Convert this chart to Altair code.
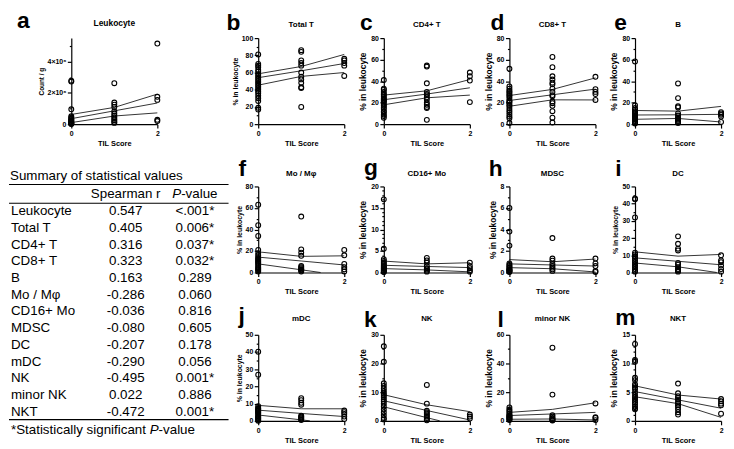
import altair as alt
import pandas as pd

FONT = "Liberation Sans"

# ---------------- summary table ----------------
CELLS = ["Leukocyte", "Total T", "CD4+ T", "CD8+ T", "B", "Mo / Mφ", "CD16+ Mo",
         "MDSC", "DC", "mDC", "NK", "minor NK", "NKT"]
SPEARMAN_R = ["0.547", "0.405", "0.316", "0.323", "0.163", "-0.286", "-0.036",
              "-0.080", "-0.207", "-0.290", "-0.495", "0.022", "-0.472"]
P_VALUES = ["<.001*", "0.006*", "0.037*", "0.032*", "0.289", "0.060", "0.816",
            "0.605", "0.178", "0.056", "0.001*", "0.886", "0.001*"]

# ---------------- panel data (values at TIL score 0 / 1 / 2) ----------------
LEUK_0 = [2.78e6, 2.72e6, 0.95e6, 0.5e6, 0.42e6, 0.35e6, 0.3e6, 0.25e6, 0.2e6, 0.16e6,
          0.12e6, 0.08e6, 0.05e6, 0.03e6, 0.01e6]
LEUK_1 = [2.62e6, 1.38e6, 1.25e6, 1.1e6, 0.82e6, 0.68e6, 0.55e6, 0.45e6, 0.35e6, 0.25e6,
          0.15e6, 0.08e6]
LEUK_2 = [5.15e6, 1.75e6, 1.55e6, 0.28e6, 0.2e6]
LEUK_FIT = {"upper": [(0, 0.62e6), (1, 1.07e6), (2, 1.92e6)],
            "mid": [(0, 0.35e6), (2, 1.35e6)],
            "lower": [(0, 0.1e6), (1, 0.52e6), (2, 0.72e6)]}

TOTALT_0 = [81, 70, 68, 66, 63, 61, 58, 56, 54, 52, 50, 48, 46, 44, 42, 40, 38, 36, 33, 30, 27, 19, 17]
TOTALT_1 = [86, 84, 74, 71, 68, 60, 55, 52, 48, 43, 42, 20]
TOTALT_2 = [76, 74, 71, 68, 56]
TOTALT_FIT = {"upper": [(0, 58.5), (1, 67), (2, 81)],
              "mid": [(0, 54), (1, 62), (2, 70.5)],
              "lower": [(0, 45.3), (1, 55.5), (2, 60)]}

CD4_0 = [41, 33, 32, 30, 28, 27, 25.5, 24, 23, 22, 21, 20, 18, 17, 15.5, 14, 12, 11, 9, 7.5, 6]
CD4_1 = [54.5, 53.5, 38, 30, 28, 27, 25, 23, 20, 18, 16, 15, 4]
CD4_2 = [48, 44.5, 40.5, 20.5]
CD4_FIT = {"upper": [(0, 27), (1, 31), (2, 41.5)],
           "mid": [(0, 22.7), (1, 28), (2, 33.8)],
           "lower": [(0, 18), (1, 24.5), (2, 27)]}

CD8_0 = [51.5, 35, 33, 31, 30, 28.5, 27, 26, 24, 22, 21, 20, 18, 17, 15, 13, 11, 9, 7, 5.5, 1]
CD8_1 = [62.5, 53, 44.5, 41.5, 38.5, 37, 33, 30, 27, 26, 21, 19.5, 17, 12, 6, 1.5]
CD8_2 = [44, 32.5, 30, 28, 22.5]
CD8_FIT = {"upper": [(0, 26.6), (1, 32.3), (2, 43)],
           "mid": [(0, 22), (1, 27.3), (2, 32.6)],
           "lower": [(0, 16.6), (1, 22.6), (2, 22.5)]}

B_0 = [58.3, 17.5, 15, 13.5, 12, 11, 10, 9, 8, 7, 6, 5, 4, 3, 2, 1, 0.5]
B_1 = [37.8, 24.2, 16.6, 15.5, 10, 8, 6, 5, 4, 3, 2, 1]
B_2 = [11.2, 10, 8.8, 7, 2]
B_FIT = {"upper": [(0, 12.7), (1, 12.1), (2, 16.5)],
         "mid": [(0, 8.5), (1, 8.7), (2, 9.1)],
         "lower": [(0, 4.5), (1, 5.3), (2, 2)]}

MO_0 = [63, 44, 34, 21, 18, 16, 14.5, 13, 12, 11, 10, 9, 8, 6.5, 5, 4, 3, 2, 1]
MO_1 = [52, 21.5, 18.5, 15.5, 6, 5, 4, 3, 2.5, 2, 1]
MO_2 = [21, 16, 8, 5, 3, 1]
MO_FIT = {"upper": [(0, 19.2), (1, 15), (2, 15.5)],
          "mid": [(0, 14.3), (1, 10.7), (2, 7)],
          "lower": [(0, 8), (1, 2.5), (1.45, 0)]}

CD16_0 = [17, 5.5, 3.1, 2.7, 2.3, 2.0, 1.7, 1.4, 1.2, 1.0, 0.8, 0.6, 0.4, 0.2, 0.1]
CD16_1 = [3.4, 2.8, 2.3, 1.5, 1.0, 0.7, 0.4, 0.2]
CD16_2 = [2.3, 1.5, 1.0, 0.5, 0.2]
CD16_FIT = {"upper": [(0, 2.65), (1, 2.0), (2, 2.27)],
            "mid": [(0, 1.67), (1, 1.4), (2, 1.14)],
            "lower": [(0, 0.9), (1, 0.6), (2, 0.15)]}

MDSC_0 = [6.0, 3.8, 2.5, 0.85, 0.7, 0.6, 0.5, 0.4, 0.3, 0.25, 0.2, 0.15, 0.1, 0.05]
MDSC_1 = [3.2, 1.3, 1.1, 0.8, 0.6, 0.45, 0.3, 0.15]
MDSC_2 = [1.3, 0.85, 0.6, 0.15, 0.05]
MDSC_FIT = {"upper": [(0, 1.2), (1, 1.0), (2, 1.25)],
            "mid": [(0, 0.8), (1, 0.7), (2, 0.6)],
            "lower": [(0, 0.45), (1, 0.35), (2, 0.05)]}

DC_0 = [43, 42.5, 32, 11.5, 10.5, 9.5, 9, 8, 7, 6, 5, 4, 3, 2, 1, 0.5]
DC_1 = [21, 16.7, 13.8, 12.8, 5.6, 4.5, 3, 2, 1.5, 1, 0.5]
DC_2 = [10, 7, 6, 4, 2, 0.5]
DC_FIT = {"upper": [(0, 12), (1, 9.5), (2, 10.5)],
          "mid": [(0, 8.5), (1, 6.5), (2, 4.5)],
          "lower": [(0, 5.5), (1, 3.3), (1.9, 0)]}

MDC_0 = [40.2, 26.8, 8.5, 7.5, 7, 6.5, 6, 5.5, 5, 4.5, 4, 3, 2.5, 2, 1.5, 1, 0.5, 0]
MDC_1 = [13.2, 12, 10.5, 9.4, 3, 2.5, 2, 1.5, 1, 0.5]
MDC_2 = [6, 5, 4, 2.5, 1]
MDC_FIT = {"upper": [(0, 9), (1, 7), (2, 7)],
           "mid": [(0, 6.2), (1, 4.3), (2, 2.5)],
           "lower": [(0, 3.4), (1.2, 0)]}

NK_0 = [26, 20.6, 13.1, 12.2, 11.3, 10.4, 9.6, 9, 8.3, 7.5, 6.8, 6, 5, 4, 3, 2, 1, 0.5]
NK_1 = [12.5, 6, 3.5, 3, 2.5, 2, 1.5, 1, 0.5, 0.2]
NK_2 = [2.2, 1.5, 0.8]
NK_FIT = {"upper": [(0, 9.1), (1, 5.6), (2, 3.2)],
          "mid": [(0, 7), (1, 3.6), (2, 0.3)],
          "lower": [(0, 4.9), (1, 1.1), (1.3, 0)]}

MINORNK_0 = [9.4, 8, 7, 6, 5, 4, 3.5, 3, 2.5, 2, 1.5, 1, 0.5]
MINORNK_1 = [51, 18.3, 4, 3, 2, 1.5, 1, 0.5, 0.3]
MINORNK_2 = [12.1, 2.5, 2, 0.5]
MINORNK_FIT = {"upper": [(0, 5.9), (1, 8), (2, 12.6)],
               "mid": [(0, 3.7), (1, 4.8), (2, 5.9)],
               "lower": [(0, 1.1), (1, 1.3), (2, 0.6)]}

NKT_0 = [13.4, 10.6, 10.3, 7.5, 7.1, 6.4, 6.1, 5.8, 5.5, 5.0, 4.5, 4.1, 3.8, 3.5, 3.2, 2.9, 2.5, 2.2, 2.0]
NKT_1 = [6.5, 4.8, 4.3, 4.0, 3.7, 3.3, 3.0, 2.7, 2.4, 2.0, 1.5, 1.1]
NKT_2 = [3.8, 3.4, 3.0, 2.7, 1.25]
NKT_FIT = {"upper": [(0, 6.1), (1, 4.5), (2, 3.8)],
           "mid": [(0, 5.1), (1, 3.65), (2, 2.2)],
           "lower": [(0, 4.2), (1, 3.0), (2, 0.6)]}

W, H = 87, 87


def panel(letter, title, ys0, ys1, ys2, fit, ymax, major, minor,
          ytitle="% in leukocyte", ytitle_size=9, ytitle_weight="normal",
          letter_xy=(-22, -9), title_dy=-13.5, title_size=8, label_expr=None):
    df = pd.DataFrame({"x": [0] * len(ys0) + [1] * len(ys1) + [2] * len(ys2),
                       "y": list(ys0) + list(ys1) + list(ys2)})
    rows = []
    for name, pts in fit.items():
        for (xv, yv) in pts:
            rows.append({"band": name, "x": xv, "y": yv})
    fdf = pd.DataFrame(rows)
    n = int(round(ymax / minor))
    yvals = [i * minor for i in range(n + 1) if i * minor <= ymax + 1e-9]
    test = f"abs(datum.value/{major} - round(datum.value/{major})) > 1e-6"
    if label_expr is None:
        label_expr = f"{test} ? '' : datum.label"
    xenc = alt.X("x:Q", scale=alt.Scale(domain=[0, 2], nice=False, zero=False),
                 axis=alt.Axis(values=[0, 1, 2], format="d", title="TIL Score",
                               titleFontSize=7.5, titleFontWeight="bold", titlePadding=3,
                               labelFlush=False, labelOverlap=False, tickSize=4))
    yenc = alt.Y("y:Q", scale=alt.Scale(domain=[0, ymax], nice=False),
                 axis=alt.Axis(values=yvals, title=ytitle, labelExpr=label_expr,
                               tickSize={"condition": {"test": test, "value": 2}, "value": 4},
                               titleFontSize=ytitle_size, titleFontWeight=ytitle_weight,
                               titlePadding=3, labelFlush=False, labelOverlap=False))
    pts = alt.Chart(df).mark_point(shape="circle", filled=False, size=24, strokeWidth=1.1,
                                   color="black", opacity=1).encode(x=xenc, y=yenc)
    lines = alt.Chart(fdf).mark_line(color="black", strokeWidth=0.8).encode(
        x=xenc, y=yenc, detail="band:N")
    lt = alt.Chart(pd.DataFrame({"t": [letter]})).mark_text(
        align="left", baseline="alphabetic", fontSize=23, fontWeight="bold",
        font=FONT, color="black").encode(
        x=alt.value(letter_xy[0]), y=alt.value(letter_xy[1]), text="t:N")
    tt = alt.Chart(pd.DataFrame({"t": [title]})).mark_text(
        align="center", baseline="middle", fontSize=title_size, fontWeight="bold",
        font=FONT, color="black").encode(
        x=alt.value(W / 2), y=alt.value(title_dy), text="t:N")
    return alt.layer(lines, pts, lt, tt).properties(width=W, height=H)


BIG = dict(ytitle_size=8.5, ytitle_weight="bold")
SMALL = dict(ytitle_size=7, ytitle_weight="bold")

leuk_expr = ("abs(datum.value/2000000 - round(datum.value/2000000)) > 1e-6 ? '' : "
             "(datum.value == 0 ? '0' : format(datum.value/1000000, 'd') + '×10⁶')")

pa = panel("a", "Leukocyte", LEUK_0, LEUK_1, LEUK_2, LEUK_FIT, 5.5e6, 2e6, 1e6,
           ytitle="Count / g", ytitle_size=6.5, ytitle_weight="bold",
           letter_xy=(-55, -10), title_dy=-15, title_size=8.5, label_expr=leuk_expr)
pb = panel("b", "Total T", TOTALT_0, TOTALT_1, TOTALT_2, TOTALT_FIT, 100, 20, 10,
           letter_xy=(-32, -8), **SMALL)
pc = panel("c", "CD4+ T", CD4_0, CD4_1, CD4_2, CD4_FIT, 80, 20, 10, letter_xy=(-24, -8), **BIG)
pd_ = panel("d", "CD8+ T", CD8_0, CD8_1, CD8_2, CD8_FIT, 80, 20, 10, letter_xy=(-19, -8), **BIG)
pe = panel("e", "B", B_0, B_1, B_2, B_FIT, 80, 20, 10, letter_xy=(-21, -8), **BIG)

pf = panel("f", "Mo / Mφ", MO_0, MO_1, MO_2, MO_FIT, 80, 20, 10,
           letter_xy=(-20, -11), title_dy=-12.5, **SMALL)
pg = panel("g", "CD16+ Mo", CD16_0, CD16_1, CD16_2, CD16_FIT, 20, 5, 1,
           letter_xy=(-20, -12), title_dy=-12.5, **BIG)
ph = panel("h", "MDSC", MDSC_0, MDSC_1, MDSC_2, MDSC_FIT, 8, 2, 1,
           letter_xy=(-21, -11), title_dy=-12.5, **BIG)
pi = panel("i", "DC", DC_0, DC_1, DC_2, DC_FIT, 50, 10, 5,
           letter_xy=(-20, -11), title_dy=-12.5, **SMALL)

pj = panel("j", "mDC", MDC_0, MDC_1, MDC_2, MDC_FIT, 50, 10, 5,
           letter_xy=(-20, -12), title_dy=-15.5, **SMALL)
pk = panel("k", "NK", NK_0, NK_1, NK_2, NK_FIT, 30, 10, 5,
           letter_xy=(-20, -8), title_dy=-15.5, **BIG)
pl = panel("l", "minor NK", MINORNK_0, MINORNK_1, MINORNK_2, MINORNK_FIT, 60, 20, 10,
           letter_xy=(-12, -8), title_dy=-15.5, **BIG)
pm = panel("m", "NKT", NKT_0, NKT_1, NKT_2, NKT_FIT, 15, 5, 1,
           letter_xy=(-20, -10), title_dy=-15.5, **BIG)

# ---------------- table chart (sits in the first column, rows 2-3) ----------------
TF = 13.5
OFF = 25          # first table row below the cell top
STEP = 16.9
TW = W + 62       # first column width (table cell)
tdf = pd.DataFrame({"cell": CELLS, "r": SPEARMAN_R, "p": P_VALUES})
ysc = alt.Y("cell:N", sort=CELLS,
            scale=alt.Scale(type="point", padding=0, range=[OFF, OFF + 12 * STEP]), axis=None)
tb = alt.Chart(tdf).encode(y=ysc)
txt = dict(baseline="middle", fontSize=TF, font=FONT, color="black")
names = tb.mark_text(align="left", **txt).encode(x=alt.value(-61), text="cell:N")
rcol = tb.mark_text(align="center", **txt).encode(x=alt.value(55), text="r:N")
pcol = tb.mark_text(align="center", **txt).encode(x=alt.value(125), text="p:N")


def label(s, x, y, italic=False, align="left"):
    return alt.Chart(pd.DataFrame({"t": [s]})).mark_text(
        align=align, fontStyle="italic" if italic else "normal", **txt).encode(
        x=alt.value(x), y=alt.value(y), text="t:N")


def hrule(y):
    return alt.Chart(pd.DataFrame({"k": [0]})).mark_rule(color="black", strokeWidth=1.2).encode(
        x=alt.value(-63), x2=alt.value(159), y=alt.value(y))


NKT_Y = OFF + 12 * STEP
hdr_title = label("Summary of statistical values", -62, OFF - 36)
hdr_r = label("Spearman r", 55, OFF - 17, align="center")
hdr_p1 = label("P", 102.1, OFF - 17, italic=True)
hdr_p2 = label("-value", 111.1, OFF - 17)
foot1 = label("*Statistically significant ", -61, NKT_Y + 19)
foot2 = label("P", 79.3, NKT_Y + 19, italic=True)
foot3 = label("-value", 88.3, NKT_Y + 19)

table = alt.layer(names, rcol, pcol, hdr_title, hdr_r, hdr_p1, hdr_p2,
                  foot1, foot2, foot3,
                  hrule(OFF - 27), hrule(OFF - 8), hrule(NKT_Y + 8)).properties(
    width=TW, height=H)

blank = alt.Chart(pd.DataFrame({"k": [0]})).mark_point(opacity=0).encode(
    x=alt.value(0), y=alt.value(0)).properties(width=W, height=H)

cells = [pa, pb, pc, pd_, pe,
         table, pf, pg, ph, pi,
         blank, pj, pk, pl, pm]

chart = alt.concat(*cells, columns=5, spacing={"row": 63, "column": 40},
                   bounds="flush", align="each").properties(
    padding=0, background="white"
).configure_view(stroke=None).configure_axis(
    grid=False, domainColor="black", domainWidth=1.2, tickColor="black", tickWidth=1.2,
    labelColor="black", titleColor="black", labelFont=FONT, titleFont=FONT,
    labelFontWeight="bold", labelFontSize=7, labelPadding=1.5
)

chart.save("out.html", embed_options={"renderer": "svg", "actions": False})
